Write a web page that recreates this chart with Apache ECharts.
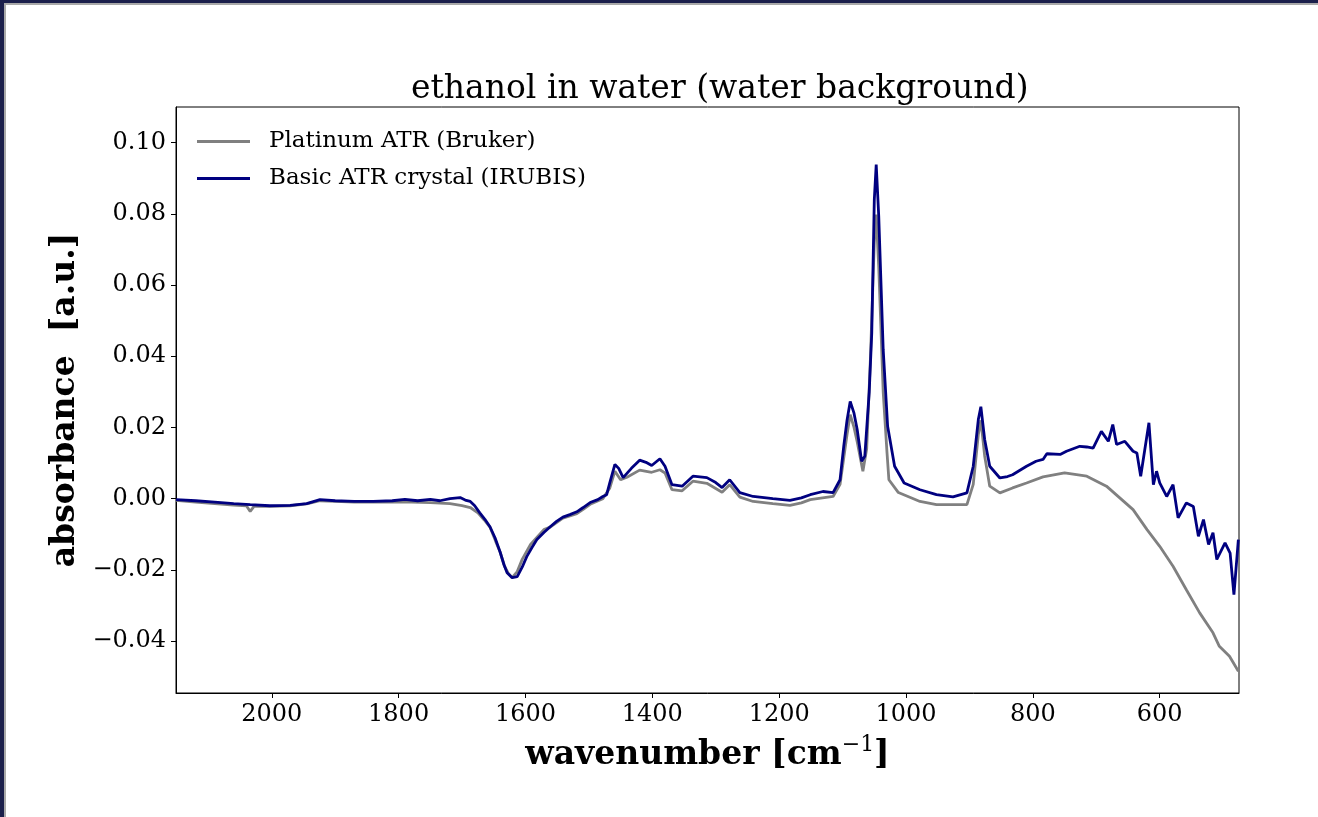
<!DOCTYPE html>
<html>
<head>
<meta charset="utf-8">
<script src="https://cdn.jsdelivr.net/npm/echarts@6/dist/echarts.min.js"></script>
<style>
  body { margin: 0; background: #fff; }
  .flow-chart { width: 1318px; height: 817px; }
  .frame {
    position: absolute; left: 0; top: 0; width: 1318px; height: 817px;
    box-sizing: border-box; pointer-events: none;
    border-top: 3px solid #1b1f4b; border-left: 4px solid #1b1f4b;
  }
  .frame div {
    width: 100%; height: 100%; box-sizing: border-box;
    border-top: 2px solid #a9a9a9; border-left: 2px solid #a9a9a9;
  }
</style>
</head>
<body>
<div class="flow-chart chart_js" id="chart"></div>
<div class="frame"><div></div></div>
<script>
// wavenumber [cm-1] / absorbance
const brukerWn = [2151, 2120, 2090, 2060, 2040, 2034, 2028, 2003, 1971, 1945, 1924, 1900, 1870, 1840, 1810, 1780, 1750, 1719, 1700, 1687, 1675, 1665, 1656, 1647, 1640, 1633, 1627, 1621, 1613, 1605, 1592, 1571, 1561, 1541, 1519, 1509, 1498, 1478, 1467, 1459, 1450, 1440, 1420, 1401, 1388, 1380, 1369, 1353, 1336, 1314, 1290, 1278, 1262, 1241, 1210, 1183, 1165, 1151, 1115, 1104, 1093, 1088, 1082, 1077, 1068, 1062, 1056, 1050, 1047, 1043, 1036, 1030, 1027, 1012, 978, 952, 904, 894, 886, 882, 876, 868, 852, 832, 810, 784, 750, 715, 684, 663, 642, 620, 600, 579, 558, 537, 516, 506, 490, 476]
const brukerAbs = [-0.0005, -0.0010, -0.0014, -0.0018, -0.0020, -0.0036, -0.0022, -0.0022, -0.0020, -0.0015, -0.0006, -0.0008, -0.0010, -0.0010, -0.0010, -0.0010, -0.0011, -0.0014, -0.0020, -0.0025, -0.0040, -0.0060, -0.0080, -0.0120, -0.0150, -0.0190, -0.0210, -0.0222, -0.0205, -0.0170, -0.0129, -0.0087, -0.0080, -0.0055, -0.0042, -0.0030, -0.0016, 0.0000, 0.0030, 0.0077, 0.0053, 0.0060, 0.0080, 0.0074, 0.0081, 0.0072, 0.0025, 0.0022, 0.0049, 0.0043, 0.0018, 0.0039, 0.0004, -0.0008, -0.0014, -0.0019, -0.0012, -0.0003, 0.0006, 0.0040, 0.0180, 0.0236, 0.0200, 0.0160, 0.0077, 0.0140, 0.0400, 0.0720, 0.0798, 0.0650, 0.0300, 0.0130, 0.0053, 0.0017, -0.0008, -0.0017, -0.0017, 0.0040, 0.0180, 0.0220, 0.0120, 0.0035, 0.0016, 0.0030, 0.0044, 0.0061, 0.0072, 0.0063, 0.0035, 0.0002, -0.0031, -0.0087, -0.0134, -0.0190, -0.0256, -0.0321, -0.0377, -0.0415, -0.0443, -0.0485]

const irubisWn = [2151, 2120, 2090, 2060, 2034, 2003, 1971, 1945, 1924, 1900, 1870, 1840, 1810, 1790, 1770, 1750, 1735, 1719, 1703, 1695, 1687, 1680, 1672, 1664, 1656, 1648, 1640, 1634, 1629, 1621, 1613, 1605, 1598, 1590, 1582, 1571, 1561, 1551, 1541, 1530, 1519, 1509, 1498, 1486, 1478, 1472, 1467, 1459, 1453, 1446, 1433, 1420, 1410, 1401, 1388, 1380, 1369, 1353, 1336, 1314, 1300, 1290, 1278, 1262, 1241, 1210, 1183, 1165, 1151, 1131, 1115, 1104, 1098, 1093, 1088, 1082, 1077, 1070, 1065, 1058, 1054, 1050, 1047, 1043, 1036, 1029, 1018, 1003, 978, 952, 926, 904, 894, 886, 882, 876, 868, 852, 840, 832, 810, 795, 784, 778, 757, 747, 726, 715, 705, 692, 681, 674, 668, 655, 642, 636, 630, 617, 610, 605, 600, 589, 579, 571, 558, 547, 539, 531, 523, 516, 510, 497, 489, 483, 476]
const irubisAbs = [-0.0003, -0.0006, -0.0010, -0.0014, -0.0017, -0.0020, -0.0019, -0.0014, -0.0003, -0.0006, -0.0008, -0.0008, -0.0006, -0.0002, -0.0006, -0.0002, -0.0006, 0.0000, 0.0003, -0.0004, -0.0008, -0.0020, -0.0040, -0.0058, -0.0079, -0.0110, -0.0150, -0.0185, -0.0208, -0.0222, -0.0219, -0.0192, -0.0163, -0.0138, -0.0115, -0.0095, -0.0079, -0.0064, -0.0052, -0.0045, -0.0037, -0.0025, -0.0011, -0.0003, 0.0006, 0.0011, 0.0045, 0.0096, 0.0085, 0.0059, 0.0085, 0.0108, 0.0102, 0.0093, 0.0112, 0.0091, 0.0039, 0.0035, 0.0063, 0.0059, 0.0045, 0.0031, 0.0053, 0.0017, 0.0006, 0.0000, -0.0005, 0.0002, 0.0011, 0.0020, 0.0017, 0.0053, 0.0150, 0.0220, 0.0273, 0.0240, 0.0194, 0.0105, 0.0119, 0.0300, 0.0466, 0.0840, 0.0938, 0.0793, 0.0419, 0.0203, 0.0091, 0.0044, 0.0025, 0.0011, 0.0005, 0.0016, 0.0091, 0.0222, 0.0258, 0.0166, 0.0091, 0.0058, 0.0062, 0.0067, 0.0091, 0.0105, 0.0110, 0.0126, 0.0124, 0.0133, 0.0147, 0.0145, 0.0142, 0.0189, 0.0161, 0.0208, 0.0152, 0.0161, 0.0133, 0.0128, 0.0063, 0.0213, 0.0039, 0.0077, 0.0044, 0.0006, 0.0039, -0.0054, -0.0012, -0.0022, -0.0106, -0.0059, -0.0129, -0.0096, -0.0171, -0.0124, -0.0153, -0.0270, -0.0115]

const xTicks = [2000, 1800, 1600, 1400, 1200, 1000, 800, 600]
const yTicks = [-0.04, -0.02, 0, 0.02, 0.04, 0.06, 0.08, 0.10]

const FONT = 'DejaVu Serif'
const zip = (xs, ys) => xs.map((x, i) => [x, ys[i]])
const fmtY = v => (v < 0 ? '\u2212' : '') + Math.abs(v).toFixed(2)

const getBaseSerie = color => {
  return {
    type: 'line',
    symbol: 'none',
    smooth: false,
    animation: false,
    lineStyle: { color: color, width: 2.8 },
    itemStyle: { color: color }
  }
}

const OPT = {
  animation: false,
  backgroundColor: '#fff',
  title: {
    text: 'ethanol in water (water background)',
    left: 406,
    top: 68,
    textStyle: { fontFamily: FONT, fontSize: 33, fontWeight: 'normal', color: '#000' }
  },
  legend: {
    orient: 'vertical',
    left: 197,
    top: 130,
    padding: 0,
    itemGap: 14,
    icon: 'rect',
    itemWidth: 53,
    itemHeight: 3,
    textStyle: { fontFamily: FONT, fontSize: 23, color: '#000', padding: [0, 0, 0, 14] },
    data: ['Platinum ATR (Bruker)', 'Basic ATR crystal (IRUBIS)']
  },
  grid: {
    left: 176,
    right: 79,
    top: 107,
    bottom: 124,
    show: true,
    borderColor: '#000',
    borderWidth: 1
  },
  xAxis: {
    type: 'value',
    inverse: true,
    min: 475,
    max: 2151,
    name: '{b|wavenumber [cm}{s|\u22121}{b|]}',
    nameLocation: 'middle',
    nameGap: 41,
    nameMoveOverlap: false,
    nameTextStyle: {
      rich: {
        b: { fontFamily: FONT, fontSize: 33, fontWeight: 'bold', color: '#000', verticalAlign: 'bottom' },
        s: { fontFamily: FONT, fontSize: 22, fontWeight: 'normal', color: '#000', verticalAlign: 'top', padding: [0, 0, 16, 0] }
      }
    },
    splitLine: { show: false },
    axisLine: { onZero: false, lineStyle: { color: '#000', width: 1 } },
    axisTick: { show: true, length: 5, lineStyle: { color: '#000' }, customValues: xTicks },
    axisLabel: { fontFamily: FONT, fontSize: 24, color: '#000', margin: 10, formatter: v => String(v), customValues: xTicks }
  },
  yAxis: {
    type: 'value',
    min: -0.0546,
    max: 0.110,
    name: 'absorbance  [a.u.]',
    nameLocation: 'middle',
    nameGap: 94,
    nameMoveOverlap: false,
    nameTextStyle: { fontFamily: FONT, fontSize: 33, fontWeight: 'bold', color: '#000' },
    splitLine: { show: false },
    axisLine: { show: true, onZero: false, lineStyle: { color: '#000', width: 1 } },
    axisTick: { show: true, length: 5, lineStyle: { color: '#000' }, customValues: yTicks },
    axisLabel: { fontFamily: FONT, fontSize: 24, color: '#000', margin: 10, formatter: fmtY, customValues: yTicks }
  },
  series: [
    Object.assign(getBaseSerie('#808080'), {
      name: 'Platinum ATR (Bruker)',
      data: zip(brukerWn, brukerAbs)
    }),
    Object.assign(getBaseSerie('#000080'), {
      name: 'Basic ATR crystal (IRUBIS)',
      data: zip(irubisWn, irubisAbs)
    })
  ]
}

const chart = echarts.init(document.getElementById('chart'))
chart.setOption(OPT)
</script>
</body>
</html>
